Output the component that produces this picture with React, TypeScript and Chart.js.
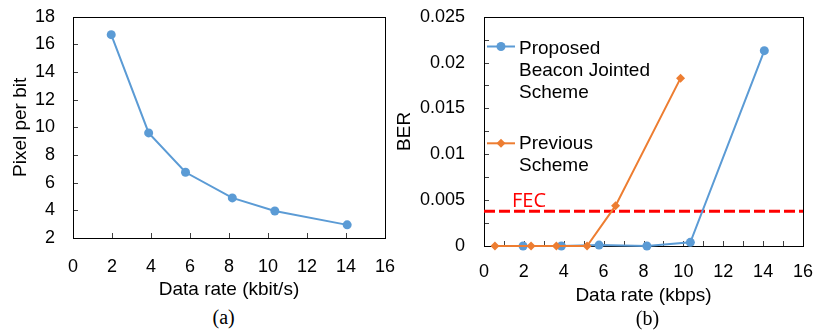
import React, { useEffect, useRef } from "react";
import { Chart, registerables } from "chart.js";

Chart.register(...registerables);

// ---------- data ----------
const RATE_A = [1.96, 3.88, 5.77, 8.17, 10.35, 14.06];
const PIXEL_PER_BIT = [16.7, 9.6, 6.75, 4.9, 3.95, 2.95];

const RATE_PROPOSED = [1.96, 3.88, 5.77, 8.17, 10.35, 14.06];
const BER_PROPOSED = [0, 0, 0.0001, 0, 0.0004, 0.0213];
const RATE_PREVIOUS = [0.55, 2.36, 3.63, 5.17, 6.6, 9.86];
const BER_PREVIOUS = [0, 0, 0, 0, 0.0044, 0.0183];

const FEC_LIMIT = 0.0038;
const FEC_LABEL = "FEC";
const FEC_SPAN = [0, 16];

const LEGEND_PROPOSED = ["Proposed", "Beacon Jointed", "Scheme"];
const LEGEND_PREVIOUS = ["Previous", "Scheme"];

const X_RANGE = [0, 16];
const Y_RANGE_A = [2, 18];
const Y_RANGE_B = [0, 0.025];

const X_TITLE_A = "Data rate (kbit/s)";
const Y_TITLE_A = "Pixel per bit";
const X_TITLE_B = "Data rate (kbps)";
const Y_TITLE_B = "BER";
const CAPTION_A = "(a)";
const CAPTION_B = "(b)";

// ---------- style ----------
const BLUE = "#5B9BD5";
const ORANGE = "#ED7D31";
const RED = "#FF0000";
const SANS = "'Liberation Sans', Arial, sans-serif";
const SERIF = "'Liberation Serif', 'Times New Roman', serif";

const zip = (xs: number[], ys: number[]) => xs.map((x, i) => ({ x, y: ys[i] }));

const frameTicks = {
  id: "frameTicks",
  beforeDatasetsDraw(chart: any) {
    const { ctx, chartArea } = chart;
    const { left, top, right, bottom } = chartArea;
    const xs = chart.scales.x;
    const ys = chart.scales.y;
    ctx.save();
    ctx.lineWidth = 1;
    ctx.strokeStyle = "#404040";
    ctx.beginPath();
    xs.ticks.forEach((t: any) => {
      const px = Math.round(xs.getPixelForValue(t.value)) + 0.5;
      ctx.moveTo(px, bottom);
      ctx.lineTo(px, bottom - 5);
    });
    ys.ticks.forEach((t: any) => {
      const py = Math.round(ys.getPixelForValue(t.value)) + 0.5;
      ctx.moveTo(left, py);
      ctx.lineTo(left + 5, py);
    });
    ctx.stroke();
    ctx.strokeStyle = "#000";
    ctx.strokeRect(
      Math.round(left) + 0.5,
      Math.round(top) + 0.5,
      Math.round(right) - Math.round(left),
      Math.round(bottom) - Math.round(top)
    );
    ctx.restore();
  },
};

function drawMarker(ctx: CanvasRenderingContext2D, style: string, x: number, y: number, r: number, color: string) {
  ctx.fillStyle = color;
  ctx.beginPath();
  if (style === "rectRot") {
    ctx.moveTo(x, y - r);
    ctx.lineTo(x + r, y);
    ctx.lineTo(x, y + r);
    ctx.lineTo(x - r, y);
    ctx.closePath();
  } else {
    ctx.arc(x, y, r, 0, Math.PI * 2);
  }
  ctx.fill();
}

const legendAndFec = {
  id: "legendAndFec",
  afterDatasetsDraw(chart: any) {
    const { ctx, chartArea } = chart;
    const { left, top } = chartArea;
    const ds = chart.data.datasets;
    const entries = [
      { d: ds[0], lines: LEGEND_PROPOSED, my: 29.8, ty: 32.5 },
      { d: ds[1], lines: LEGEND_PREVIOUS, my: 126.6, ty: 126.6 },
    ];
    ctx.save();
    entries.forEach((e) => {
      const color = e.d.borderColor;
      const my = top + e.my;
      ctx.strokeStyle = color;
      ctx.lineWidth = 2;
      ctx.beginPath();
      ctx.moveTo(left + 3, my);
      ctx.lineTo(left + 31, my);
      ctx.stroke();
      drawMarker(ctx, e.d.pointStyle, left + 17, my, e.d.pointRadius, color);
      ctx.fillStyle = "#000";
      ctx.font = `19px ${SANS}`;
      ctx.textBaseline = "middle";
      ctx.textAlign = "left";
      e.lines.forEach((ln, i) => {
        ctx.fillText(ln, left + 35, top + e.ty + i * 22);
      });
    });
    // FEC label
    const ly = chart.scales.y.getPixelForValue(FEC_LIMIT);
    ctx.fillStyle = RED;
    ctx.font = `20px 'Open Sans', ${SANS}`;
    ctx.textBaseline = "alphabetic";
    ctx.fillText(FEC_LABEL, left + 28, ly - 4);
    ctx.restore();
  },
};

function baseScale(extra: any) {
  return {
    type: "linear",
    grid: { display: false, drawTicks: false },
    border: { display: false },
    ...extra,
  };
}

const fixX = (h: number) => (s: any) => {
  s.height = h;
  s.paddingLeft = 0;
  s.paddingRight = 0;
  s.paddingTop = 0;
  s.paddingBottom = 0;
};
const fixY = (w: number) => (s: any) => {
  s.width = w;
  s.paddingLeft = 0;
  s.paddingRight = 0;
  s.paddingTop = 0;
  s.paddingBottom = 0;
};

export default function App() {
  const refA = useRef<HTMLCanvasElement>(null);
  const refB = useRef<HTMLCanvasElement>(null);

  useEffect(() => {
    const chartA = new Chart(refA.current!, {
      type: "scatter",
      data: {
        datasets: [
          {
            label: Y_TITLE_A,
            data: zip(RATE_A, PIXEL_PER_BIT),
            showLine: true,
            borderColor: BLUE,
            backgroundColor: BLUE,
            borderWidth: 2,
            pointRadius: 4.5,
            pointStyle: "circle",
            pointBorderWidth: 0,
            tension: 0,
            clip: false,
          },
        ],
      },
      options: {
        responsive: false,
        animation: false,
        devicePixelRatio: 1,
        layout: { padding: { left: 0, top: 16.7, right: 15, bottom: 0 } },
        plugins: { legend: { display: false }, tooltip: { enabled: false } },
        scales: {
          x: baseScale({
            min: X_RANGE[0],
            max: X_RANGE[1],
            ticks: { stepSize: 2, padding: 18, color: "#000", font: { size: 18, family: SANS }, maxRotation: 0, autoSkip: false },
            title: { display: true, text: X_TITLE_A, color: "#000", font: { size: 19, family: SANS }, padding: { top: 0, bottom: 0 } },
            afterFit: fixX(301 - 238),
          }),
          y: baseScale({
            min: Y_RANGE_A[0],
            max: Y_RANGE_A[1],
            ticks: { stepSize: 2, padding: 18, color: "#000", font: { size: 18, family: SANS }, autoSkip: false },
            title: { display: true, text: Y_TITLE_A, color: "#000", font: { size: 19, family: SANS }, padding: { top: 9, bottom: 0 } },
            afterFit: fixY(73),
          }),
        },
      } as any,
      plugins: [frameTicks],
    });

    const chartB = new Chart(refB.current!, {
      type: "scatter",
      data: {
        datasets: [
          {
            label: LEGEND_PROPOSED.join(" "),
            data: zip(RATE_PROPOSED, BER_PROPOSED),
            showLine: true,
            borderColor: BLUE,
            backgroundColor: BLUE,
            borderWidth: 2,
            pointRadius: 4.5,
            pointStyle: "circle",
            pointBorderWidth: 0,
            tension: 0,
            clip: false,
            order: 1,
          },
          {
            label: LEGEND_PREVIOUS.join(" "),
            data: zip(RATE_PREVIOUS, BER_PREVIOUS),
            showLine: true,
            borderColor: ORANGE,
            backgroundColor: ORANGE,
            borderWidth: 2,
            pointRadius: 4.5,
            pointStyle: "rectRot",
            pointBorderWidth: 0,
            tension: 0,
            clip: false,
            order: 0,
          },
          {
            label: FEC_LABEL,
            data: FEC_SPAN.map((x) => ({ x, y: FEC_LIMIT })),
            showLine: true,
            borderColor: RED,
            borderWidth: 3,
            borderDash: [11, 4],
            pointRadius: 0,
            tension: 0,
            clip: false,
            order: 2,
          },
        ],
      },
      options: {
        responsive: false,
        animation: false,
        devicePixelRatio: 1,
        layout: { padding: { left: 0, top: 16.7, right: 13, bottom: 0 } },
        plugins: { legend: { display: false }, tooltip: { enabled: false } },
        scales: {
          x: baseScale({
            min: X_RANGE[0],
            max: X_RANGE[1],
            ticks: {
              stepSize: 1,
              padding: 15,
              color: "#000",
              font: { size: 18, family: SANS },
              maxRotation: 0,
              autoSkip: false,
              callback: (v: number) => (Math.round(v) % 2 === 0 ? String(Math.round(v)) : ""),
            },
            title: { display: true, text: X_TITLE_B, color: "#000", font: { size: 19, family: SANS }, padding: { top: 0, bottom: 0 } },
            afterFit: fixX(307 - 246),
          }),
          y: baseScale({
            min: Y_RANGE_B[0],
            max: Y_RANGE_B[1],
            ticks: {
              stepSize: 0.0025,
              padding: 19,
              color: "#000",
              font: { size: 18, family: SANS },
              autoSkip: false,
              callback: (v: number) => {
                const k = v / 0.005;
                return Math.abs(k - Math.round(k)) < 1e-6 ? String(Number(v.toFixed(4))) : "";
              },
            },
            title: { display: true, text: Y_TITLE_B, color: "#000", font: { size: 19, family: SANS }, padding: { top: 5.6, bottom: 0 } },
            afterFit: fixY(96),
          }),
        },
      } as any,
      plugins: [frameTicks, legendAndFec],
    });

    return () => {
      chartA.destroy();
      chartB.destroy();
    };
  }, []);

  const captionStyle = (center: number, top: number): React.CSSProperties => ({
    position: "absolute",
    left: center - 40,
    width: 80,
    top,
    textAlign: "center",
    fontFamily: SERIF,
    fontSize: 20,
    lineHeight: "20px",
    color: "#000",
  });

  return (
    <div style={{ position: "fixed", left: 0, top: 0, width: 816, height: 331, overflow: "hidden", background: "#fff" }}>
      <canvas ref={refA} width={400} height={301} style={{ position: "absolute", left: 0, top: 0, width: 400, height: 301 }} />
      <canvas ref={refB} width={428} height={307} style={{ position: "absolute", left: 388, top: 0, width: 428, height: 307 }} />
      <div style={captionStyle(223.7, 307)}>{CAPTION_A}</div>
      <div style={captionStyle(647.5, 308)}>{CAPTION_B}</div>
    </div>
  );
}
